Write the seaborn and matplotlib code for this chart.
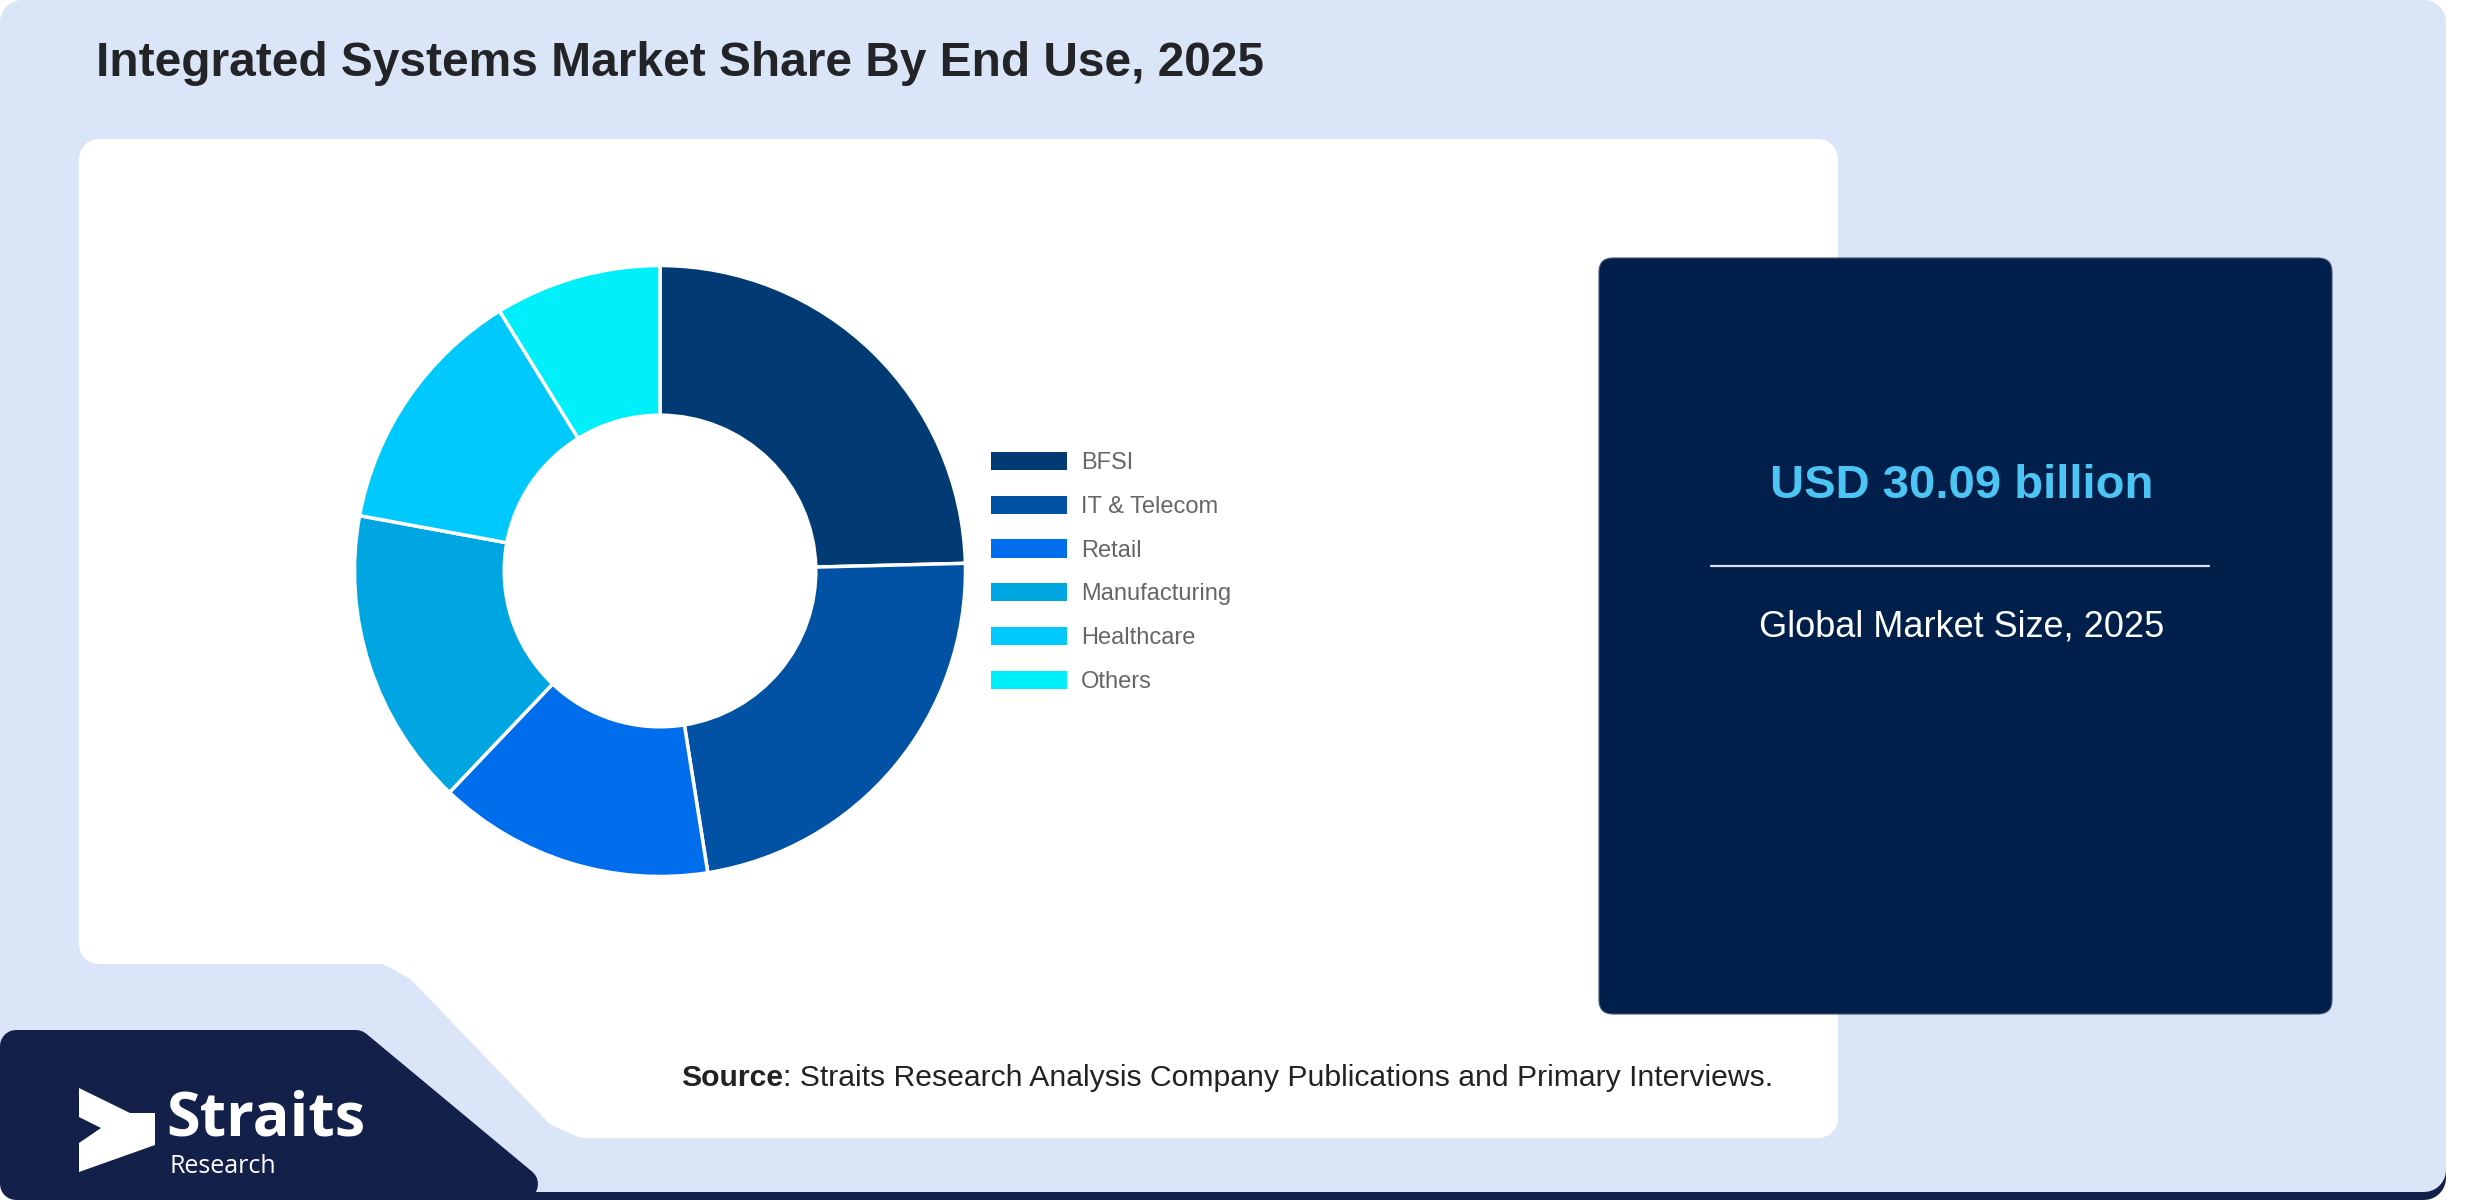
import matplotlib
matplotlib.use("Agg")
import matplotlib.pyplot as plt
import seaborn as sns
from matplotlib.patches import Polygon, FancyBboxPatch, Patch

# datos del grafico
segments = ["BFSI", "IT & Telecom", "Retail", "Manufacturing", "Healthcare", "Others"]
shares = [24.6, 22.9, 14.6, 15.8, 13.3, 8.8]
seg_colors = ["#023b73", "#0152a4", "#006ded", "#00a6e2", "#00c9fd", "#00f0fb"]

title = "Integrated Systems Market Share By End Use, 2025"
market_value = "USD 30.09 billion"
market_label = "Global Market Size, 2025"
source_rest = ": Straits Research Analysis Company Publications and Primary Interviews."

sns.set_style("white")
plt.rcParams["font.family"] = ["Liberation Sans", "DejaVu Sans"]

W, H = 2480, 1200
fig = plt.figure(figsize=(W / 100, H / 100), dpi=100)
fig.patch.set_facecolor("white")

# fondo en coordenadas de pixel
bg = fig.add_axes([0, 0, 1, 1])
bg.set_xlim(0, W)
bg.set_ylim(H, 0)
bg.axis("off")

navy = "#13204a"
light = "#dae6f8"

def rounded_poly(pts, color, r, z):
    # poligono con esquinas redondeadas (borde grueso del mismo color)
    lw = 2 * r * 72 / 100
    bg.add_patch(Polygon(pts, closed=True, facecolor=color, edgecolor=color,
                         linewidth=lw, joinstyle="round", zorder=z))

rounded_poly([(22, 30), (2424, 30), (2424, 1178), (22, 1178)], navy, 22, 1)
rounded_poly([(22, 22), (2424, 22), (2424, 1170), (22, 1170)], light, 22, 2)
rounded_poly([(16, 1046), (356, 1046), (522, 1184), (16, 1184)], navy, 16, 3)
rounded_poly([(99, 159), (1818, 159), (1818, 1118), (585, 1118),
              (562, 1108), (423, 963), (388, 944), (99, 944)], "white", 20, 3)

box = FancyBboxPatch((1599, 258), 733, 756, boxstyle="round,pad=0,rounding_size=14",
                     facecolor="#001f4b", edgecolor="#41506e", linewidth=0.8, zorder=4)
bg.add_patch(box)

bg.text(96, 63, title, fontsize=34.5, fontweight="bold", color="#222428",
        va="center", ha="left", zorder=5)

cx = 1962
bg.text(cx, 486, market_value, fontsize=34, fontweight="bold", color="#4cc4f4",
        ha="center", va="center", zorder=5)
bg.plot([1711, 2209], [566, 566], color="#d8dde6", linewidth=1.6, zorder=5)
bg.text(cx, 627, market_label, fontsize=26, color="white",
        ha="center", va="center", zorder=5)

src = bg.text(681, 1078, "Source", fontsize=21.7, fontweight="bold", color="#222222",
              ha="left", va="center", zorder=5)
bg.annotate(source_rest, xy=(1, 0.5), xycoords=src, fontsize=21.7, color="#222222",
            ha="left", va="center", zorder=5)

# logo
chevron = [(79, 1088), (130, 1113), (155, 1113), (155, 1145), (79, 1172),
           (79, 1143), (101, 1128), (79, 1117)]
bg.add_patch(Polygon(chevron, closed=True, facecolor="white", edgecolor="none", zorder=5))
bg.text(166, 1136, "Straits", fontsize=44, fontweight="bold", color="white",
        family=["Open Sans", "DejaVu Sans"], ha="left", va="baseline", zorder=5)
bg.text(170, 1173, "Research", fontsize=18, color="white",
        family=["Open Sans", "DejaVu Sans"], ha="left", va="baseline", zorder=5)

# grafico de dona
ccx, ccy, rad = 660, 571, 307
ax = fig.add_axes([(ccx - rad) / W, 1 - (ccy + rad) / H, 2 * rad / W, 2 * rad / H])
palette = sns.color_palette(seg_colors)
ax.pie(shares, colors=palette, startangle=90, counterclock=False, radius=1,
       wedgeprops=dict(width=0.49, edgecolor="white", linewidth=2.5))
ax.set_xlim(-1.005, 1.005)
ax.set_ylim(-1.005, 1.005)
ax.set_aspect("equal")
ax.axis("off")

handles = [Patch(facecolor=c, edgecolor="none") for c in palette]
fig.legend(handles, segments, loc="upper left",
           bbox_to_anchor=(991 / W, 1 - 452 / H), frameon=False,
           fontsize=17, labelcolor="#666666", handlelength=3.2, handleheight=0.8,
           handletextpad=0.6, labelspacing=0.91, borderpad=0, borderaxespad=0)

fig.savefig("out.png", dpi=100, facecolor=fig.get_facecolor())
